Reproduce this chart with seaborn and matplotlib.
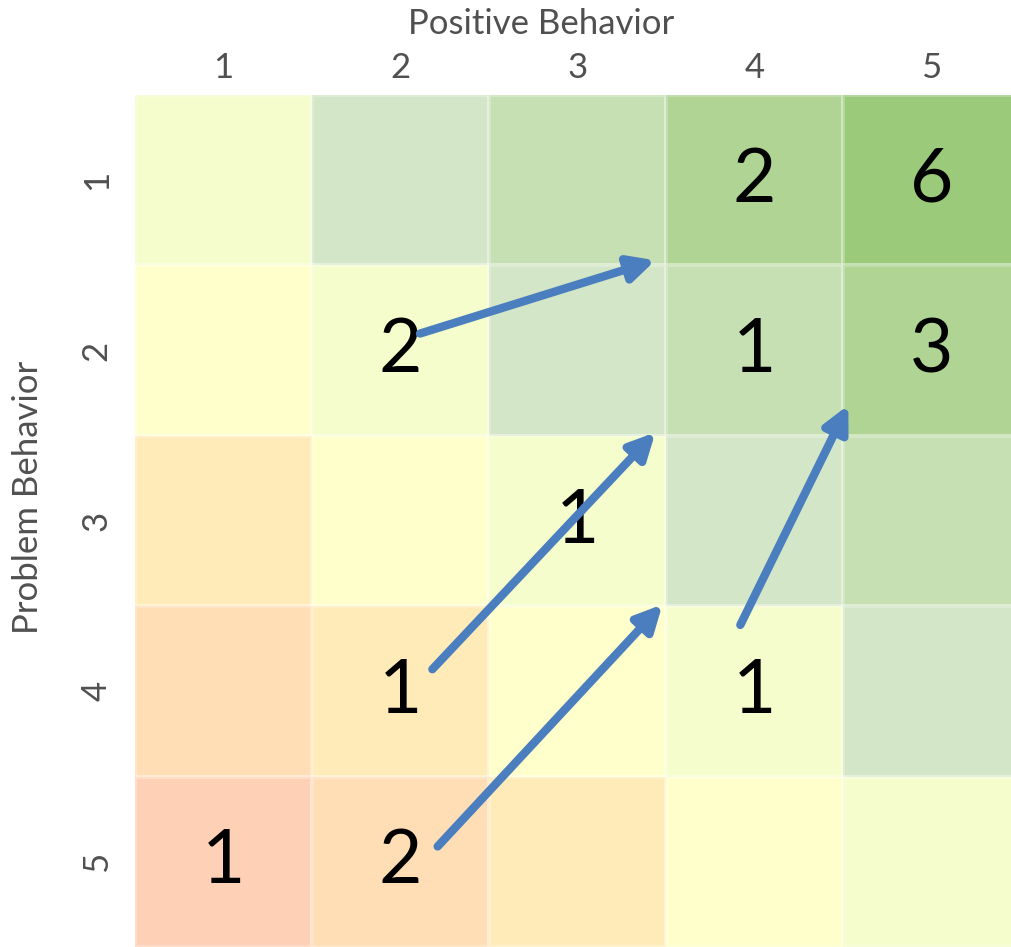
import numpy as np
import pandas as pd
import matplotlib
matplotlib.use("Agg")
import matplotlib.pyplot as plt
from matplotlib.colors import ListedColormap
import seaborn as sns

# Axis categories
positive_levels = [1, 2, 3, 4, 5]   # columns
problem_levels = [1, 2, 3, 4, 5]    # rows

# Shading level of each cell (-4 = worst ... +4 = best)
shade_rows = [
    [0, 1, 2, 3, 4],
    [-1, 0, 1, 2, 3],
    [-2, -1, 0, 1, 2],
    [-3, -2, -1, 0, 1],
    [-4, -3, -2, -1, 0],
]

# Number of cases in each cell (blank where none)
count_rows = [
    ["", "", "", "2", "6"],
    ["", "2", "", "1", "3"],
    ["", "", "1", "", ""],
    ["", "1", "", "1", ""],
    ["1", "2", "", "", ""],
]

# Colours for the shading levels -4 .. +4
level_colors = ["#FED1B6", "#FFDDB5", "#FFEBB8", "#FFFFCC", "#F4FDCB",
                "#D4E6C8", "#C6E0B4", "#AFD494", "#9BCA7A"]

# Movements between cells: (column, row) of start and end, in cell units
move_from = [(1.61, 1.40), (1.68, 3.37), (1.71, 4.41), (3.42, 3.11)]
move_to = [(2.94, 0.97), (2.94, 1.98), (2.98, 2.99), (4.03, 1.82)]

sns.set_theme(style="white")
plt.rcParams["font.family"] = ["Lato", "DejaVu Sans"]

shade = pd.DataFrame(shade_rows, index=problem_levels, columns=positive_levels)
counts = np.array(count_rows)

fig = plt.figure(figsize=(10.11, 9.47), dpi=100)
W, H = 1011, 947
ax = fig.add_axes([135 / W, 0, 885 / W, 852 / H])

sns.heatmap(
    shade, ax=ax, cmap=ListedColormap(level_colors), vmin=-4.5, vmax=4.5,
    cbar=False, annot=counts, fmt="",
    annot_kws={"fontsize": 54, "color": "black"},
    linewidths=1.5, linecolor=(1, 1, 1, 0.25), square=False,
)

text_grey = "#505050"
ax.xaxis.tick_top()
ax.set_xticklabels(positive_levels, fontsize=25, color=text_grey)
ax.set_yticklabels(problem_levels, fontsize=25, color=text_grey,
                   rotation=90, va="center")
ax.tick_params(axis="x", length=0, pad=8)
ax.tick_params(axis="y", length=0, pad=16)
ax.set_xlabel("")
ax.set_ylabel("")
for s in ax.spines.values():
    s.set_visible(False)

fig.text(541 / W, 1 - 24 / H, "Positive Behavior", ha="center", va="center",
         fontsize=25, color=text_grey)
fig.text(28 / W, 1 - 497 / H, "Problem Behavior", ha="center", va="center",
         rotation=90, fontsize=25, color=text_grey)

for (x0, y0), (x1, y1) in zip(move_from, move_to):
    ax.annotate(
        "", xy=(x1, y1), xytext=(x0, y0),
        arrowprops=dict(arrowstyle="-|>,head_length=0.9,head_width=0.45",
                        mutation_scale=17, color="#4A7EBF", lw=6,
                        shrinkA=0, shrinkB=0),
    )

fig.savefig("out.png", dpi=100)
